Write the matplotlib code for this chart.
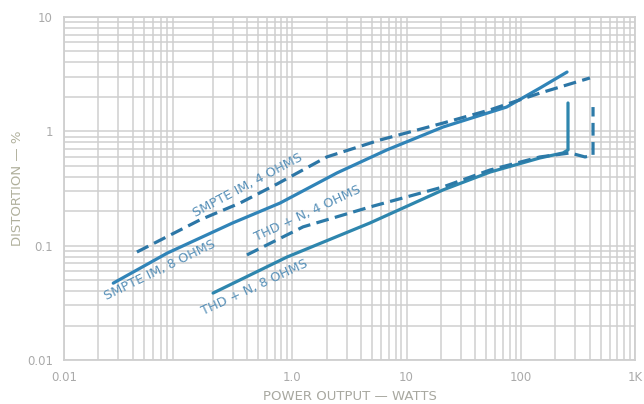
import matplotlib.pyplot as plt
import numpy as np

# Data (power in W, distortion in %)
smpte8_w = [0.027, 0.08, 0.30, 0.78, 2.46, 6.7, 20.8, 75, 147, 254]
smpte8_d = [0.047, 0.086, 0.158, 0.236, 0.433, 0.687, 1.09, 1.63, 2.39, 3.30]

smpte4_w = [0.0435, 0.155, 0.348, 0.733, 2.0, 5.85, 20.8, 53.7, 147, 403]
smpte4_d = [0.088, 0.168, 0.236, 0.346, 0.597, 0.84, 1.18, 1.54, 2.16, 2.93]

thd4_w = [0.40, 1.24, 4.78, 20.8, 53.7, 147, 270, 365, 429, 429]
thd4_d = [0.083, 0.146, 0.218, 0.326, 0.459, 0.597, 0.647, 0.597, 0.62, 1.63]

thd8_w = [0.202, 0.898, 4.78, 20.8, 53.7, 147, 234, 259, 259]
thd8_d = [0.0385, 0.0796, 0.158, 0.307, 0.44, 0.585, 0.647, 0.687, 1.77]

xticks = [0.01, 1, 10, 100, 1000]
xlabels = ['0.01', '1.0', '10', '100', '1K']
yticks = [0.01, 0.1, 1, 10]
ylabels = ['0.01', '0.1', '1', '10']

fig = plt.figure(figsize=(6.44, 4.04), dpi=100)
ax = fig.add_axes([64 / 644, 44 / 404, 571 / 644, 343 / 404])
ax.set_xscale('log')
ax.set_yscale('log')
ax.set_xlim(0.01, 1000)
ax.set_ylim(0.01, 10)

grid_c = '#cfcfcf'
ax.grid(which='both', color=grid_c, lw=1.1)
for s in ax.spines.values():
    s.set_color(grid_c)
    s.set_linewidth(1.3)

ax.plot(smpte8_w, smpte8_d, color='#3084b8', lw=2.3, solid_capstyle='round')
ax.plot(smpte4_w, smpte4_d, color='#2c76a6', lw=2.3, dashes=(4, 2))
ax.plot(thd8_w, thd8_d, color='#2e86ae', lw=2.3, solid_capstyle='round')
ax.plot(thd4_w, thd4_d, color='#2c7aa8', lw=2.3, dashes=(4, 2))

txt_c = '#5790b8'
ax.text(0.41, 0.34, 'SMPTE IM, 4 OHMS', color=txt_c, fontsize=9.3, rotation=28,
        ha='center', va='center')
ax.text(0.069, 0.061, 'SMPTE IM, 8 OHMS', color=txt_c, fontsize=9.3, rotation=26,
        ha='center', va='center')
ax.text(1.37, 0.19, 'THD + N, 4 OHMS', color=txt_c, fontsize=9.3, rotation=25,
        ha='center', va='center')
ax.text(0.47, 0.0427, 'THD + N, 8 OHMS', color=txt_c, fontsize=9.3, rotation=25,
        ha='center', va='center')

lab_c = '#aaaaaa'
ax.set_xticks(xticks)
ax.set_xticklabels(xlabels)
ax.set_yticks(yticks)
ax.set_yticklabels(ylabels)
ax.minorticks_on()
ax.tick_params(which='both', length=0, colors=lab_c, labelsize=8.5)
ax.tick_params(axis='x', pad=8)
ax.tick_params(axis='y', pad=8)
ax.xaxis.set_minor_formatter(plt.NullFormatter())
ax.yaxis.set_minor_formatter(plt.NullFormatter())

ax.set_xlabel('POWER OUTPUT — WATTS', color='#a8a8a0', fontsize=9.5, labelpad=4)
ax.set_ylabel('DISTORTION — %', color='#b0b09c', fontsize=9.5, labelpad=2)

plt.savefig('out.png', dpi=100)
plt.close()
